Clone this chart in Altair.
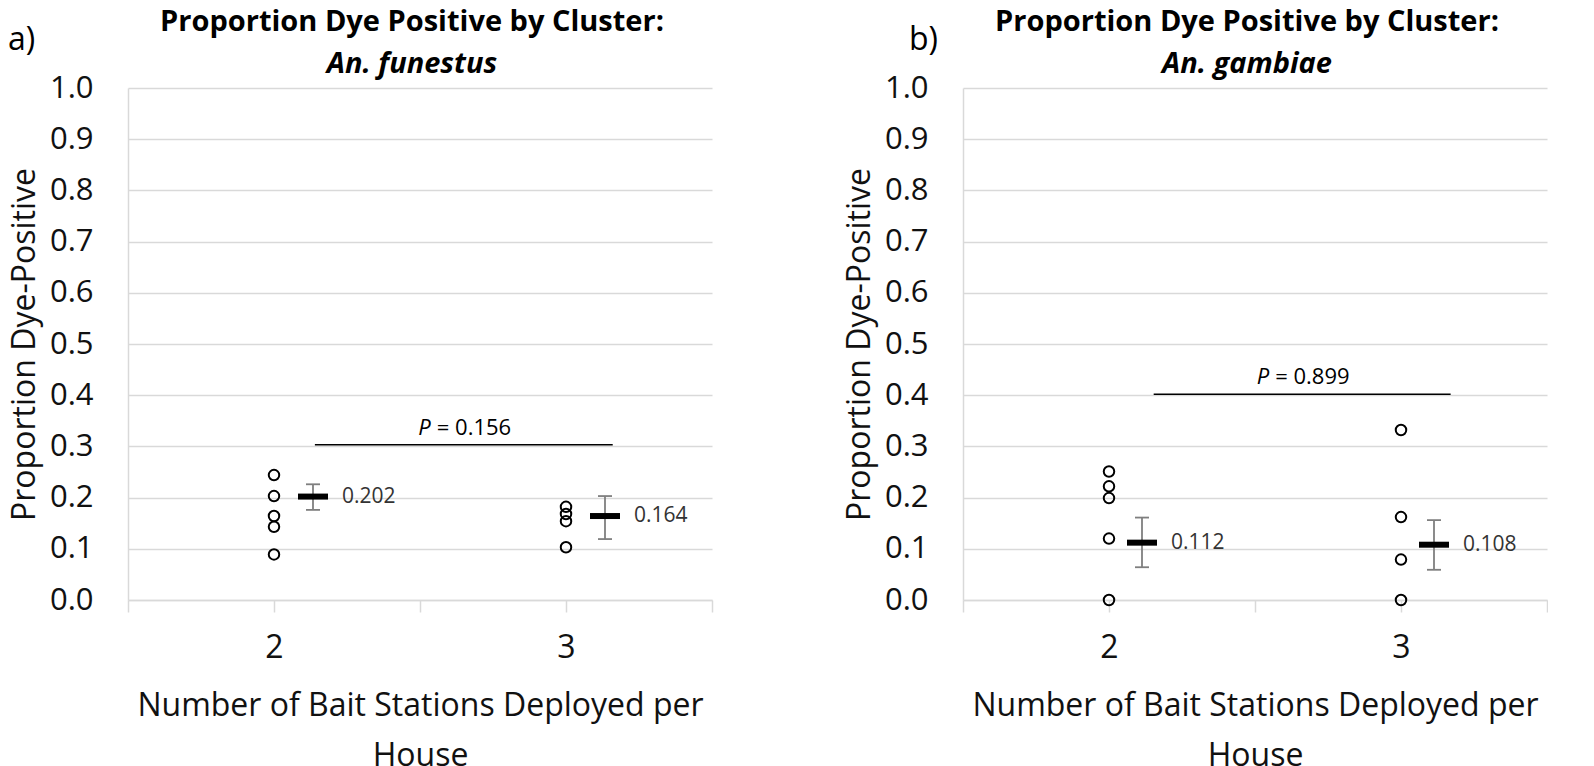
import altair as alt
import pandas as pd

# ---- data ----
clusters = [2, 3]
fun_pts_2 = [0.244, 0.203, 0.164, 0.143, 0.089]
fun_pts_3 = [0.182, 0.168, 0.154, 0.103]
gam_pts_2 = [0.251, 0.222, 0.199, 0.120, 0.0]
gam_pts_3 = [0.332, 0.162, 0.079, 0.0]

fun_mean = [0.202, 0.164]
fun_lo = [0.176, 0.119]
fun_hi = [0.226, 0.203]
gam_mean = [0.112, 0.108]
gam_lo = [0.064, 0.059]
gam_hi = [0.161, 0.156]

fun_p = {"text": "0.156", "y": 0.303, "x1": 2.14, "x2": 3.16}
gam_p = {"text": "0.899", "y": 0.402, "x1": 2.153, "x2": 3.17}

title_line1 = "Proportion Dye Positive by Cluster:"

FONT = "Open Sans"
GRID = "#d9d9d9"
ERR = "#7f7f7f"
W, H = 584, 512


def panel(pts2, pts3, means, lo, hi, p, species, letter, letter_x, off, lab_dx):
    pts = pd.DataFrame({
        "n": [2] * len(pts2) + [3] * len(pts3),
        "v": pts2 + pts3,
    })
    summ = pd.DataFrame({"n": clusters, "m": means, "lo": lo, "hi": hi,
                         "lab": [f"{m:.3f}" for m in means]})
    pdf = pd.DataFrame({"x1": [p["x1"]], "x2": [p["x2"]], "y": [p["y"]],
                        "xm": [(p["x1"] + p["x2"]) / 2],
                        "t": ["= " + p["text"]]})

    xaxis = alt.Axis(
        values=[1.5, 2, 2.5, 3, 3.5],
        labelExpr="(datum.value == 2 || datum.value == 3) ? ('' + datum.value) : ''",
        grid=False, domainColor=GRID, domainWidth=1.5, tickColor=GRID,
        tickWidth=1.5, tickSize=12, labelPadding=20, labelFontSize=32,
        labelFont=FONT, labelColor="#111", labelFlush=False, labelOverlap=False,
        title=["Number of Bait Stations Deployed per", "House"],
        titleFont=FONT, titleFontSize=32, titleFontWeight="normal",
        titleColor="#111", titlePadding=27, titleLineHeight=50,
    )
    yaxis = alt.Axis(
        values=[i / 10 for i in range(11)], format=".1f", grid=True,
        gridColor=GRID, gridWidth=1.5, domain=True, domainColor=GRID,
        domainWidth=1.5, ticks=False, tickSize=0, labelPadding=35,
        labelFontSize=31, labelFont=FONT, labelColor="#111",
        title="Proportion Dye-Positive", titleFont=FONT, titleFontSize=32,
        titleFontWeight="normal", titleColor="#111", titlePadding=8,
    )
    xs = alt.Scale(domain=[1.5, 3.5], nice=False, zero=False)
    ys = alt.Scale(domain=[0, 1], nice=False)

    base_pts = alt.Chart(pts).mark_point(
        shape="circle", filled=False, stroke="black", strokeWidth=2,
        size=110, opacity=1
    ).encode(x=alt.X("n:Q", scale=xs, axis=xaxis), y=alt.Y("v:Q", scale=ys, axis=yaxis))

    sb = alt.Chart(summ)
    err = sb.mark_rule(color=ERR, strokeWidth=1.8, xOffset=off, opacity=1).encode(
        x="n:Q", y="lo:Q", y2="hi:Q")
    cap_lo = sb.mark_tick(orient="horizontal", size=14, thickness=1.8,
                          color=ERR, opacity=1, xOffset=off).encode(x="n:Q", y="lo:Q")
    cap_hi = sb.mark_tick(orient="horizontal", size=14, thickness=1.8,
                          color=ERR, opacity=1, xOffset=off).encode(x="n:Q", y="hi:Q")
    mean = sb.mark_tick(orient="horizontal", size=30, thickness=6, opacity=1,
                        color="black", xOffset=off).encode(x="n:Q", y="m:Q")
    lab = sb.mark_text(align="left", baseline="middle", dx=lab_dx,
                       fontSize=21, font=FONT, color="#333").encode(
        x="n:Q", y="m:Q", text="lab:N")

    pb = alt.Chart(pdf)
    pline = pb.mark_rule(color="black", strokeWidth=1.5).encode(
        x="x1:Q", x2="x2:Q", y="y:Q")
    ptxt_p = pb.mark_text(align="right", baseline="alphabetic", dx=-33, dy=-10,
                          fontSize=22, font=FONT, fontStyle="italic",
                          color="black").encode(
        x="xm:Q", y="y:Q", text=alt.value("P"))
    ptxt_v = pb.mark_text(align="left", baseline="alphabetic", dx=-27, dy=-10,
                          fontSize=22, font=FONT, color="black").encode(
        x="xm:Q", y="y:Q", text="t:N")

    lbl = pd.DataFrame({"t": [letter], "t1": [title_line1], "t2": [species]})
    lb = alt.Chart(lbl)
    letter_mark = lb.mark_text(
        align="left", baseline="alphabetic", fontSize=32, font=FONT,
        color="black").encode(x=alt.value(letter_x), y=alt.value(-38), text="t:N")
    t1 = lb.mark_text(align="center", baseline="alphabetic", fontSize=29,
                      font=FONT, fontWeight="bold", color="black").encode(
        x=alt.value(W / 2 - 8), y=alt.value(-57), text="t1:N")
    t2 = lb.mark_text(align="center", baseline="alphabetic", fontSize=29,
                      font=FONT, fontWeight="bold", fontStyle="italic",
                      color="black").encode(
        x=alt.value(W / 2 - 8), y=alt.value(-15), text="t2:N")

    return alt.layer(
        base_pts, err, cap_lo, cap_hi, mean, lab, pline, ptxt_p, ptxt_v,
        letter_mark, t1, t2
    ).properties(width=W, height=H)


left = panel(fun_pts_2, fun_pts_3, fun_mean, fun_lo, fun_hi, fun_p,
             "An. funestus", "a)", -120, 39, 68)
right = panel(gam_pts_2, gam_pts_3, gam_mean, gam_lo, gam_hi, gam_p,
              "An. gambiae", "b)", -54, 33, 62)

chart = alt.hconcat(left, right, spacing=130).configure_view(
    strokeWidth=0).properties(padding=0)

chart.save("out.html", embed_options={"renderer": "svg", "actions": False})
